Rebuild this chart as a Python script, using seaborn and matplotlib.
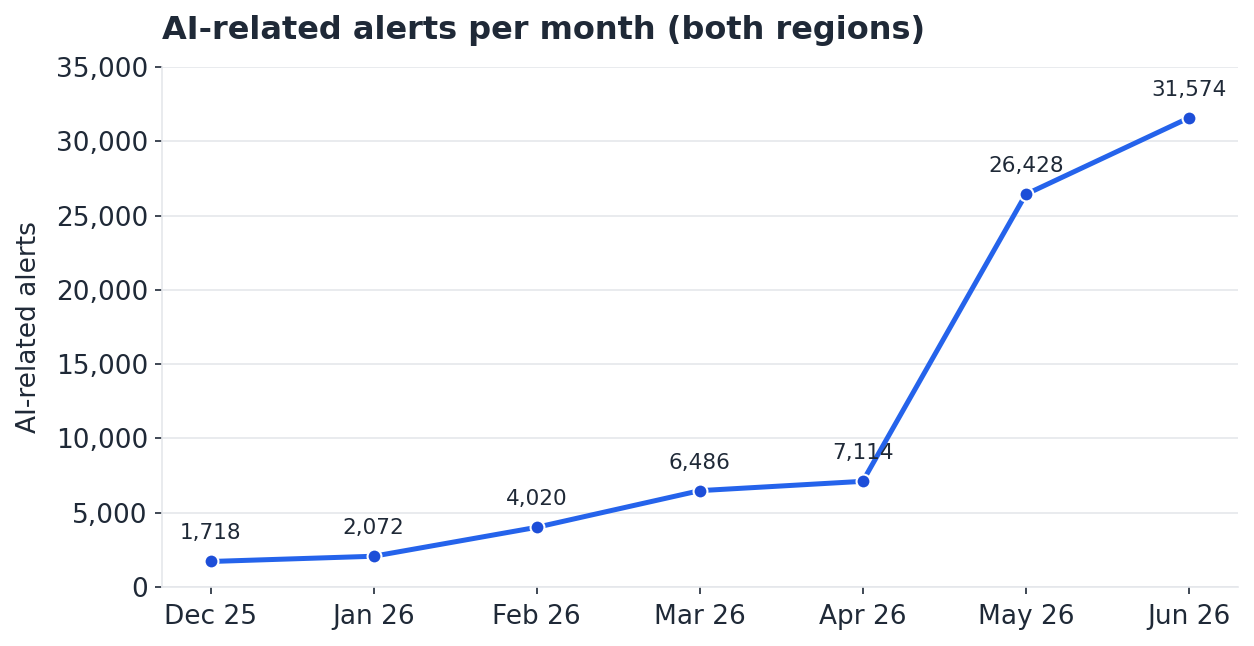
import pandas as pd
import matplotlib.pyplot as plt
import seaborn as sns
from matplotlib.ticker import FuncFormatter

# Monthly AI-related alerts, both regions combined
months = ["Dec 25", "Jan 26", "Feb 26", "Mar 26", "Apr 26", "May 26", "Jun 26"]
alerts = [1718, 2072, 4020, 6486, 7114, 26428, 31574]

df = pd.DataFrame({"month": months, "alerts": alerts})

sns.set_style("white")
plt.rcParams['font.family'] = ['DejaVu Sans']

text_col = "#1f2937"
grid_col = "#e5e7eb"

fig = plt.figure(figsize=(12.54, 6.46), dpi=100)
ax = fig.add_axes([0.129, 0.0913, 0.858, 0.805])

sns.lineplot(data=df, x="month", y="alerts", ax=ax, color="#2563eb", linewidth=3.6,
             marker="o", markersize=10, markerfacecolor="#1d4ed8",
             markeredgecolor="white", markeredgewidth=1.5, sort=False)

# value labels above each point
for i, v in enumerate(alerts):
    ax.annotate(f"{v:,}", (i, v), xytext=(0, 13), textcoords="offset points",
                ha="center", va="bottom", fontsize=15.5, color=text_col)

ax.set_xlim(-0.3, len(months) - 0.7)
ax.set_ylim(0, 35000)
ax.set_yticks(range(0, 35001, 5000))
ax.yaxis.set_major_formatter(FuncFormatter(lambda v, p: f"{int(v):,}"))

ax.grid(axis="y", color=grid_col, linewidth=1.2)
ax.set_axisbelow(True)
for side in ["top", "right"]:
    ax.spines[side].set_visible(False)
for side in ["left", "bottom"]:
    ax.spines[side].set_color(grid_col)
    ax.spines[side].set_linewidth(1.2)

ax.tick_params(axis="both", labelsize=19, colors=text_col, length=5, width=1.2,
               bottom=True, left=True)
ax.tick_params(axis="x", pad=7)
ax.tick_params(axis="y", pad=5)
ax.set_xlabel("")
ax.set_ylabel("AI-related alerts", fontsize=19, color=text_col, labelpad=10)
ax.set_title("AI-related alerts per month (both regions)", loc="left",
             fontsize=23, fontweight="bold", color=text_col, pad=20)

fig.savefig("out.png", dpi=100)
